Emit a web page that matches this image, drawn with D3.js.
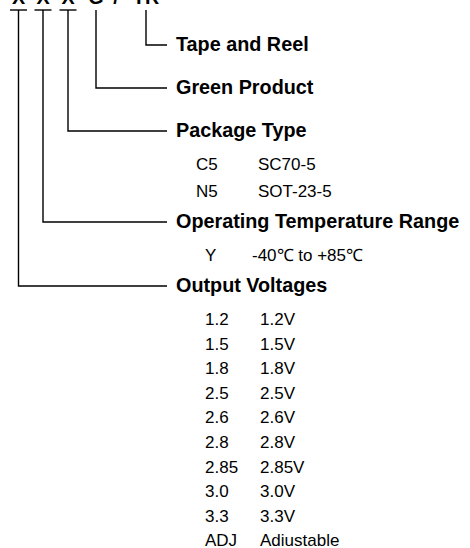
<!DOCTYPE html>
<html>
<head>
<meta charset="utf-8">
<script src="https://cdn.jsdelivr.net/npm/d3@7"></script>
<style>
  body { margin: 0; background: #fff; }
  svg { display: block; }
  text { font-family: "Liberation Sans", Arial, sans-serif; fill: #000; }
</style>
</head>
<body>
<div id="chart"></div>
<script>
// part number code characters, left to right
var codeChars = ["X", "X", "X", "G", "/", "TR"];
// which code characters get the small bar under them
var codeBars = [true, true, true, false, false, false];

// fields, top to bottom, and the code character each one points at
var fieldNames = ["Tape and Reel", "Green Product", "Package Type", "Operating Temperature Range", "Output Voltages"];
var fieldChar = [5, 3, 2, 1, 0];

var packageCodes = ["C5", "N5"];
var packageNames = ["SC70-5", "SOT-23-5"];
var tempCodes = ["Y"];
var tempNames = ["-40\u2103 to +85\u2103"];
var voltCodes = ["1.2", "1.5", "1.8", "2.5", "2.6", "2.8", "2.85", "3.0", "3.3", "ADJ"];
var voltNames = ["1.2V", "1.5V", "1.8V", "2.5V", "2.6V", "2.8V", "2.85V", "3.0V", "3.3V", "Adiustable"];

var fieldItems = [
    [],
    [],
    d3.zip(packageCodes, packageNames),
    d3.zip(tempCodes, tempNames),
    d3.zip(voltCodes, voltNames)
];

// layout
var width = 470, height = 548;
var boldSize = 19.8, regSize = 17;
var codeBaseline = 3.5, stemTop = 10, barHalf = 8.5;
var lineEnd = 167, labelX = 176;
var codeX = [18.5, 43, 68, 96, 116, 146];
var itemCodeX = [0, 0, 196, 205, 205];
var itemNameX = [0, 0, 258, 252, 260];
var rowStep = [0, 0, 27, 27, 24.6];

var svg = d3.select("#chart").append("svg")
    .attr("width", width)
    .attr("height", height);

// walk down the page to place the fields and their rows
var rows = [];
var y = 51;
fieldNames.forEach(function(name, i) {
    var f = { name: name, i: i, y: y, line: y - 6, items: [] };
    if (fieldItems[i].length) {
        y += 33;
        fieldItems[i].forEach(function(it, k) {
            f.items.push({ code: it[0], name: it[1], y: y });
            if (k < fieldItems[i].length - 1) y += rowStep[i];
        });
        y += 31;
    } else {
        y += 43;
    }
    rows.push(f);
});

var g = svg.append("g");

g.selectAll("text.code")
    .data(codeChars)
    .enter().append("text")
    .attr("class", "code")
    .attr("x", function(d, i) { return codeX[i]; })
    .attr("y", codeBaseline)
    .attr("text-anchor", "middle")
    .style("font-size", boldSize + "px")
    .style("font-weight", "bold")
    .text(function(d) { return d; });

g.selectAll("line.bar")
    .data(codeChars.filter(function(d, i) { return codeBars[i]; }))
    .enter().append("line")
    .attr("class", "bar")
    .attr("x1", function(d, i) { return codeX[i] - barHalf; })
    .attr("x2", function(d, i) { return codeX[i] + barHalf; })
    .attr("y1", stemTop)
    .attr("y2", stemTop)
    .attr("stroke", "#000")
    .attr("stroke-width", 1.4);

g.selectAll("path.leader")
    .data(rows)
    .enter().append("path")
    .attr("class", "leader")
    .attr("fill", "none")
    .attr("stroke", "#000")
    .attr("stroke-width", 1.4)
    .attr("d", function(d) {
        var x = codeX[fieldChar[d.i]];
        return "M" + x + "," + stemTop + "V" + d.line + "H" + lineEnd;
    });

g.selectAll("text.field")
    .data(rows)
    .enter().append("text")
    .attr("class", "field")
    .attr("x", labelX)
    .attr("y", function(d) { return d.y; })
    .style("font-size", boldSize + "px")
    .style("font-weight", "bold")
    .text(function(d) { return d.name; });

rows.forEach(function(f) {
    var items = g.append("g").selectAll("g")
        .data(f.items)
        .enter().append("g");
    items.append("text")
        .attr("x", itemCodeX[f.i])
        .attr("y", function(d) { return d.y; })
        .style("font-size", regSize + "px")
        .text(function(d) { return d.code; });
    items.append("text")
        .attr("x", itemNameX[f.i])
        .attr("y", function(d) { return d.y; })
        .style("font-size", regSize + "px")
        .text(function(d) { return d.name; });
});
</script>
</body>
</html>
